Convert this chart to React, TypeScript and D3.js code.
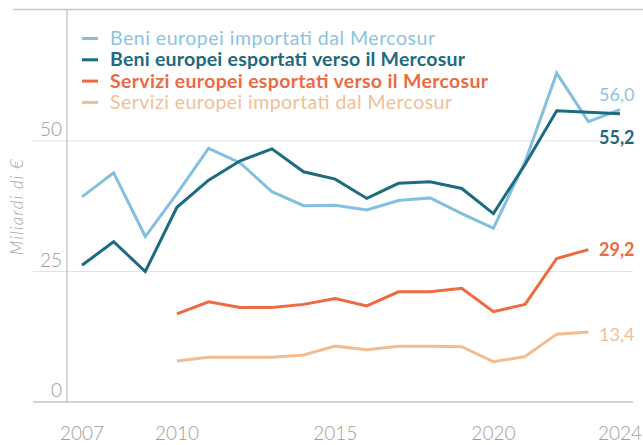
import React from "react";
import * as d3 from "d3";

const years = [2007, 2008, 2009, 2010, 2011, 2012, 2013, 2014, 2015, 2016, 2017, 2018, 2019, 2020, 2021, 2022, 2023, 2024];
const beniImportati = [39.3, 43.9, 31.7, 39.9, 48.6, 45.8, 40.3, 37.6, 37.7, 36.8, 38.6, 39.1, 36.1, 33.3, 46.0, 63.0, 53.7, 56.0];
const beniEsportati = [26.2, 30.7, 25.0, 37.3, 42.5, 46.2, 48.5, 44.1, 42.7, 39.0, 41.9, 42.2, 40.9, 36.1, 45.5, 55.8, 55.5, 55.2];
const serviziEsportati: (number | null)[] = [null, null, null, 16.9, 19.2, 18.1, 18.1, 18.7, 19.8, 18.4, 21.1, 21.1, 21.8, 17.3, 18.7, 27.5, 29.2, null];
const serviziImportati: (number | null)[] = [null, null, null, 7.85, 8.55, 8.55, 8.55, 9.0, 10.7, 10.0, 10.7, 10.7, 10.6, 7.7, 8.7, 13.0, 13.4, null];

const seriesNames = [
  "Beni europei importati dal Mercosur",
  "Beni europei esportati verso il Mercosur",
  "Servizi europei esportati verso il Mercosur",
  "Servizi europei importati dal Mercosur",
];
const endLabels = ["56,0", "55,2", "29,2", "13,4"];
const yTicks = [0, 25, 50];
const xTicks = [2007, 2010, 2015, 2020, 2024];

const colors = ["#85bfe0", "#1b6c82", "#ee6a42", "#f1bc92"];
const textColors = ["#8dc3e2", "#1d6a80", "#ec6a44", "#f0bf98"];
const weights = [400, 700, 700, 400];
const legendWidths = [325, 355, 378, 342];

export default function App() {
  const W = 643, H = 445;
  const x = d3.scaleLinear().domain([2007, 2024]).range([82, 620]);
  const y = d3.scaleLinear().domain([0, 50]).range([402, 141]);
  const allSeries = [beniImportati, beniEsportati, serviziEsportati, serviziImportati];
  const line = d3
    .line<number | null>()
    .defined((d) => d !== null)
    .x((_, i) => x(years[i]))
    .y((d) => y(d as number));

  const labelY = [95, 138, 250, 335];
  const font = "Lato, 'Open Sans', sans-serif";

  return (
    <div style={{ position: "fixed", left: 0, top: 0, width: W, height: H, background: "#fff" }}>
      <svg width={W} height={H} style={{ display: "block", fontFamily: font }}>
        <rect width={W} height={H} fill="#fff" />
        <line x1={13} x2={W} y1={9.5} y2={9.5} stroke="#c8c8c8" strokeWidth={1.5} />
        {yTicks.map((t) => (
          <g key={t}>
            <line
              x1={33}
              x2={633}
              y1={y(t)}
              y2={y(t)}
              stroke={t === 0 ? "#c4c4c4" : "#e2e2e2"}
              strokeWidth={t === 0 ? 1.5 : 1.2}
            />
            <text x={62} y={y(t) - 5} textAnchor="end" fontSize={19} fontWeight={300} fill="#9a9a9a">
              {t}
            </text>
          </g>
        ))}
        <line x1={67} x2={67} y1={10} y2={402} stroke="#bdbdbd" strokeWidth={1.2} />
        <text
          transform={`translate(23, 207) rotate(-90)`}
          textAnchor="middle"
          fontSize={17}
          fontStyle="italic"
          fontWeight={300}
          fill="#a5a5a5"
          textLength={96}
          lengthAdjust="spacing"
        >
          Miliardi di €
        </text>
        {xTicks.map((t) => (
          <text key={t} x={x(t)} y={440} textAnchor="middle" fontSize={19} fontWeight={300} fill="#a0a0a0">
            {t}
          </text>
        ))}
        {allSeries.map((s, i) => (
          <path key={i} d={line(s) || ""} fill="none" stroke={colors[i]} strokeWidth={3} strokeLinejoin="miter" />
        ))}
        {allSeries.map((s, i) => (
          <text key={"e" + i} x={599} y={labelY[i] + 6} fontSize={18} fontWeight={weights[i]} fill={textColors[i]}>
            {endLabels[i]}
          </text>
        ))}
        {seriesNames.map((n, i) => (
          <g key={n} transform={`translate(0, ${38.5 + i * 21.3})`}>
            <line x1={82} x2={98} y1={0} y2={0} stroke={colors[i]} strokeWidth={3} />
            <text
              x={110}
              y={6.5}
              fontSize={19.5}
              fontWeight={weights[i]}
              fill={textColors[i]}
              textLength={legendWidths[i]}
              lengthAdjust="spacing"
            >
              {n}
            </text>
          </g>
        ))}
      </svg>
    </div>
  );
}
